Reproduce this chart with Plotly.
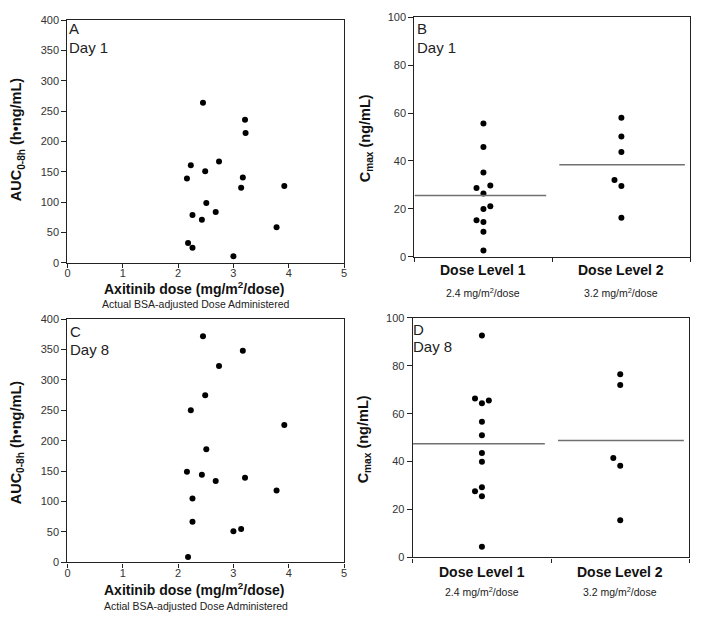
import plotly.graph_objects as go

# ---------------- data ----------------
# Panel A: Day 1 AUC vs actual dose
dose_day1 = [2.45, 3.21, 3.22, 2.23, 2.74, 2.49, 2.16, 3.17, 3.14, 3.92, 2.51, 2.26, 2.68, 2.43, 3.78, 2.18, 2.26, 3.00]
auc_day1 = [264, 236, 214, 161, 167, 151, 139, 141, 124, 127, 99, 79, 84, 71, 59, 33, 25, 11]

# Panel C: Day 8 AUC vs actual dose
dose_day8 = [2.45, 3.17, 2.74, 2.49, 2.23, 3.92, 2.51, 2.16, 2.43, 2.68, 3.21, 3.78, 2.26, 2.26, 3.00, 3.14, 2.18]
auc_day8 = [372, 348, 323, 275, 250, 226, 186, 149, 144, 134, 139, 118, 105, 67, 51, 55, 9]

# Panels B / D: Cmax by dose level
dose_levels = ["Dose Level 1", "Dose Level 2"]
dose_level_sub = ["2.4 mg/m<sup>2</sup>/dose", "3.2 mg/m<sup>2</sup>/dose"]

cmax_d1_lvl1 = [55.7, 45.8, 35.2, 28.7, 29.8, 26.4, 20.0, 21.1, 15.2, 14.5, 10.4, 2.6]
side_d1_lvl1 = [0, 0, 0, -1, 1, 0, 0, 1, -1, 0, 0, 0]
cmax_d1_lvl2 = [58.0, 50.2, 43.8, 32.1, 29.5, 16.3]
side_d1_lvl2 = [0, 0, 0, -1, 0, 0]
mean_d1 = [25.6, 38.4]

cmax_d8_lvl1 = [92.6, 66.3, 64.4, 65.5, 56.6, 51.0, 43.6, 39.9, 29.3, 27.6, 25.6, 4.5]
side_d8_lvl1 = [0, -1, 0, 1, 0, 0, 0, 0, 0, -1, 0, 0]
cmax_d8_lvl2 = [76.5, 72.0, 41.5, 38.3, 15.5]
side_d8_lvl2 = [0, 0, -1, 0, 0]
mean_d8 = [47.5, 48.8]

# ---------------- styling ----------------
W, H = 701, 623
FONT = "Liberation Sans, Arial, sans-serif"
TICKC = "#333333"
AXC = "#222222"
JIT = 0.05
centers = [0.5, 1.5]

def px_x(p):
    return p / W

def px_y(p):
    return 1 - p / H

fig = go.Figure()

def scatter(x, y, xa, ya):
    fig.add_trace(go.Scatter(x=x, y=y, mode="markers", xaxis=xa, yaxis=ya,
                             marker=dict(color="black", size=6), showlegend=False,
                             hoverinfo="x+y", cliponaxis=False))

scatter(dose_day1, auc_day1, "x", "y")
scatter(dose_day8, auc_day8, "x3", "y3")

def level_points(vals, sides, c, xa, ya):
    xs = [c + s * JIT for s in sides]
    scatter(xs, vals, xa, ya)

level_points(cmax_d1_lvl1, side_d1_lvl1, centers[0], "x2", "y2")
level_points(cmax_d1_lvl2, side_d1_lvl2, centers[1], "x2", "y2")
level_points(cmax_d8_lvl1, side_d8_lvl1, centers[0], "x4", "y4")
level_points(cmax_d8_lvl2, side_d8_lvl2, centers[1], "x4", "y4")

# mean lines
for means, xa, ya, spans in [(mean_d1, "x2", "y2", [(0.0, 0.955), (1.05, 1.96)]),
                             (mean_d8, "x4", "y4", [(0.0, 0.955), (1.05, 1.96)])]:
    for m, (a, b) in zip(means, spans):
        fig.add_trace(go.Scatter(x=[a, b], y=[m, m], mode="lines", xaxis=xa, yaxis=ya,
                                 line=dict(color="#707070", width=1.5), showlegend=False,
                                 hoverinfo="skip"))

def axis_style(xaxis):
    return dict(showline=True, linecolor=AXC, linewidth=1.3, mirror=True,
                ticks="outside", ticklen=4 if xaxis else 5, tickcolor=AXC, tickwidth=1,
                showgrid=False, zeroline=False,
                tickfont=dict(family=FONT, size=11, color=TICKC))

# geometry (pixels)
A = dict(l=65, r=344, t=14.5, b=262)
B = dict(l=415, r=693.3, t=11.5, b=255.7)
C = dict(l=65, r=344, t=319.3, b=567.3)
D = dict(l=413.3, r=692.3, t=318, b=562.3)

def dom(g):
    return [px_x(g["l"]), px_x(g["r"])], [px_y(g["b"]), px_y(g["t"])]

xa_, ya_ = dom(A)
xb_, yb_ = dom(B)
xc_, yc_ = dom(C)
xd_, yd_ = dom(D)

fig.update_layout(
    width=W, height=H, margin=dict(l=0, r=0, t=0, b=0),
    paper_bgcolor="white", plot_bgcolor="white",
    font=dict(family=FONT, color="#222222"),
    xaxis=dict(domain=xa_, anchor="y", range=[0, 5], dtick=1, tick0=0, **axis_style(True)),
    yaxis=dict(domain=ya_, anchor="x", range=[0, 400], dtick=50, tick0=0, **axis_style(False)),
    xaxis2=dict(domain=xb_, anchor="y2", range=[0, 2], tickvals=[0, 1, 2],
                ticktext=["", "", ""], **axis_style(True)),
    yaxis2=dict(domain=yb_, anchor="x2", range=[0, 100], dtick=20, tick0=0, **axis_style(False)),
    xaxis3=dict(domain=xc_, anchor="y3", range=[0, 5], dtick=1, tick0=0, **axis_style(True)),
    yaxis3=dict(domain=yc_, anchor="x3", range=[0, 400], dtick=50, tick0=0, **axis_style(False)),
    xaxis4=dict(domain=xd_, anchor="y4", range=[0, 2], tickvals=[0, 1, 2],
                ticktext=["", "", ""], **axis_style(True)),
    yaxis4=dict(domain=yd_, anchor="x4", range=[0, 100], dtick=20, tick0=0, **axis_style(False)),
)

# pull the x tick labels a little closer to the axis
try:
    fig.update_layout(xaxis_ticklabelstandoff=-4, xaxis3_ticklabelstandoff=-4)
except Exception:
    fig.update_layout(xaxis_ticklen=2, xaxis3_ticklen=2)

ann = []

def text(x, y, s, size, bold=False, xanchor="center", yanchor="middle", angle=0, color="#111111"):
    ann.append(dict(x=x, y=y, xref="paper", yref="paper", text=(f"<b>{s}</b>" if bold else s),
                    showarrow=False, xanchor=xanchor, yanchor=yanchor, textangle=angle,
                    font=dict(family=FONT, size=size, color=color)))

# panel letters (pixel centres)
for lx, ly, dy, letter, day in [(65, 23, 42, "A", "Day 1"), (416, 23, 42.5, "B", "Day 1"),
                                (66, 331.5, 350, "C", "Day 8"), (412, 329.5, 347, "D", "Day 8")]:
    text(px_x(lx), px_y(ly), letter, 15, xanchor="left", color="#222222")
    text(px_x(lx), px_y(dy), day, 15, xanchor="left", color="#222222")

# y titles
text(px_x(15), px_y(136), "AUC<sub>0-8h</sub> (h•ng/mL)", 14.5, bold=True, angle=-90)
text(px_x(15), px_y(300 + 145), "AUC<sub>0-8h</sub> (h•ng/mL)", 14.5, bold=True, angle=-90)
text(px_x(367), px_y(135), "C<sub>max</sub> (ng/mL)", 14.5, bold=True, angle=-90)
text(px_x(365), px_y(300 + 142), "C<sub>max</sub> (ng/mL)", 14.5, bold=True, angle=-90)

# x titles
text(px_x(193), px_y(288), "Axitinib dose (mg/m<sup>2</sup>/dose)", 14, bold=True)
text(px_x(195), px_y(303.5), "Actual BSA-adjusted Dose Administered", 10.5, color="#222222")
text(px_x(193), px_y(594), "Axitinib dose (mg/m<sup>2</sup>/dose)", 14, bold=True)
text(px_x(195), px_y(612), "Actial BSA-adjusted Dose Administered", 10.5, color="#222222")

# dose level labels (data x via axis)
for xa, ytop, ysub in [("x2", 269, 292), ("x4", 577, 597)]:
    for c, lab, sub in zip(centers, dose_levels, dose_level_sub):
        ann.append(dict(x=c, y=px_y(ytop), xref=xa, yref="paper", text=f"<b>{lab}</b>",
                        showarrow=False, xanchor="center", yanchor="middle",
                        font=dict(family=FONT, size=14, color="#111111")))
        ann.append(dict(x=c, y=px_y(ysub), xref=xa, yref="paper", text=sub,
                        showarrow=False, xanchor="center", yanchor="middle",
                        font=dict(family=FONT, size=10.5, color="#222222")))

fig.update_layout(annotations=ann)
fig.write_html("out.html", config={"displayModeBar": False},
               post_script="document.body.style.margin='0';document.body.style.overflow='hidden';")
